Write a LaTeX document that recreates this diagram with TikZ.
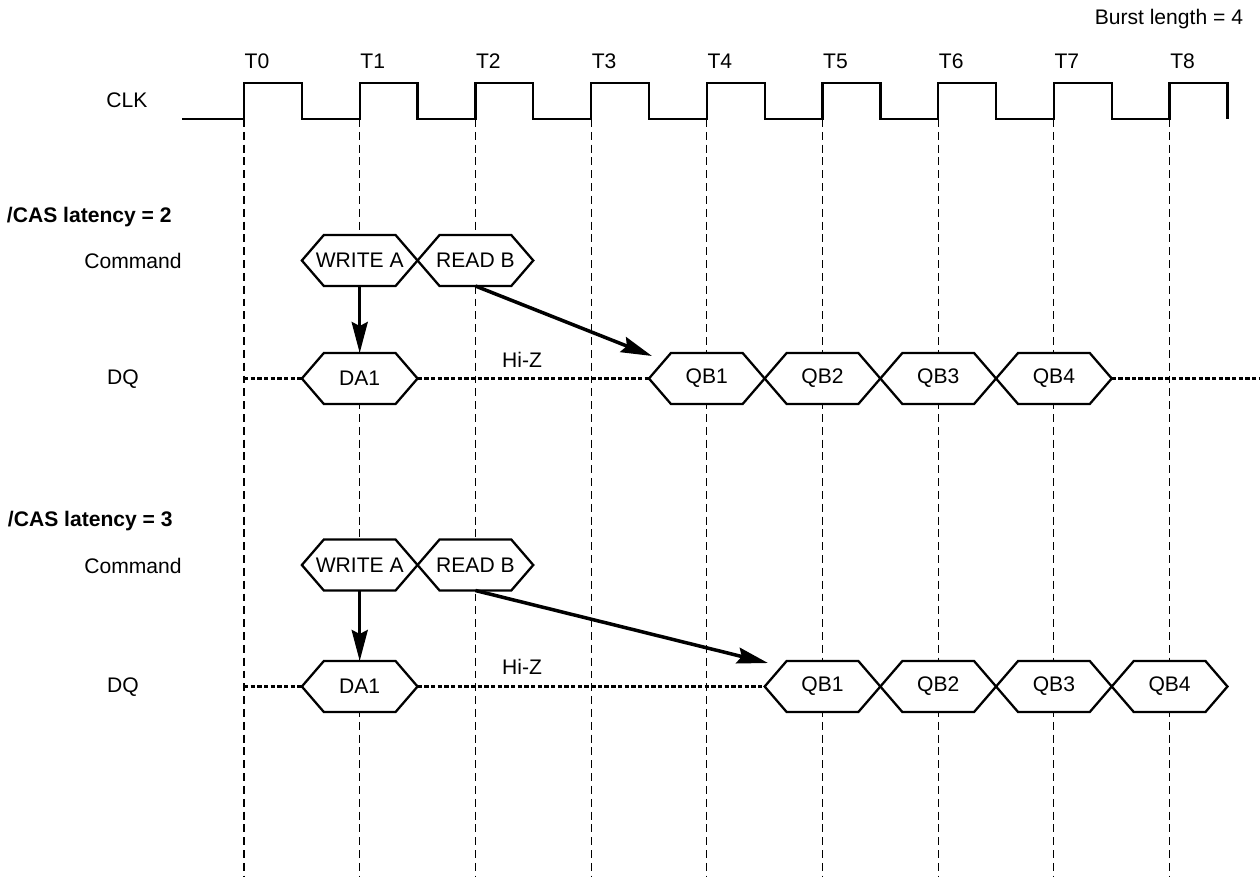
\documentclass[tikz,border=0pt]{standalone}
\usepackage{fontspec}
\setmainfont{Liberation Sans}
\usetikzlibrary{arrows.meta}

\newcommand\busval[4]{% name, centre x, centre y, text
  \path[hexa] (#2-57.85,#3) -- ++(22,-25.5) -- ++(71.7,0) -- ++(22,25.5)
    -- ++(-22,25.5) -- ++(-71.7,0) -- cycle;
  \node[val] (#1) at (#2,#3) {#4};}

\begin{document}
\begin{tikzpicture}[
  x=0.02cm, y=-0.02cm,
  font=\fontsize{12pt}{14pt}\selectfont,
  inner sep=0pt, outer sep=0pt,
  clk/.style={line width=1.3pt},
  grid/.style={line width=0.6pt, dash pattern=on 4.5pt off 2.8pt},
  hiz/.style={line width=1.4pt, dash pattern=on 2.5pt off 1.3pt},
  hexa/.style={draw, fill=white, line width=1.3pt},
  val/.style={minimum width=2.314cm, minimum height=1.02cm},
  arr/.style={line width=2pt, -{Stealth[length=0.62cm, width=0.32cm, inset=0.08cm]}},
  head/.style={font=\fontsize{12pt}{14pt}\selectfont\bfseries}]
\useasboundingbox (0,0) rectangle (1260,876);

\node [anchor=base east] (bl) at (1243,24) {Burst length = 4};
\node (clk) at (127,100) {CLK};
\draw [clk] (182,119) \foreach \i in {0,...,8} {
  -- (244+115.7*\i,119) -- ++(0,-36) -- ++(57.85,0) -- ++(0,36)};
\foreach \i in {0,...,8} {
  \node (t\i) at (257+115.7*\i,61) {T\i};
  \draw [grid] (244+115.7*\i,119) -- (244+115.7*\i,876);
}

%% latency 2
\node [head, anchor=base west] (cl2) at (7,222) {/CAS latency = 2};
\node (cmd2) at (133,261) {Command};
\node (dq2) at (123,379) {DQ};
\node (hz2) at (522,360) {Hi-Z};
\busval{wa2}{359.7}{260.5}{WRITE A}
\busval{rb2}{475.4}{260.5}{READ B}
\busval{da2}{359.7}{378.5}{DA1}
\foreach \i in {1,...,4} {\busval{qb2-\i}{591.1+115.7*\i}{378.5}{QB\i}}
\coordinate (s2) at (244,378.5);
\coordinate (e2) at (1260,378.5);
\coordinate (p2) at (652,356);
\draw [hiz] (s2) -- (da2.west) (da2.east) -- (qb2-1.west) (qb2-4.east) -- (e2);
\draw [arr] (wa2.south) -- (da2.north);
\draw [arr] (rb2.south) -- (p2);

%% latency 3
\node [head, anchor=base west] (cl3) at (8,526) {/CAS latency = 3};
\node (cmd3) at (133,566) {Command};
\node (dq3) at (123,687) {DQ};
\node (hz3) at (522,667) {Hi-Z};
\busval{wa3}{359.7}{565}{WRITE A}
\busval{rb3}{475.4}{565}{READ B}
\busval{da3}{359.7}{686.5}{DA1}
\foreach \i in {1,...,4} {\busval{qb3-\i}{706.8+115.7*\i}{686.5}{QB\i}}
\coordinate (s3) at (244,686.5);
\coordinate (p3) at (768,663);
\draw [hiz] (s3) -- (da3.west) (da3.east) -- (qb3-1.west);
\draw [arr] (wa3.south) -- (da3.north);
\draw [arr] (rb3.south) -- (p3);
\end{tikzpicture}
\end{document}
